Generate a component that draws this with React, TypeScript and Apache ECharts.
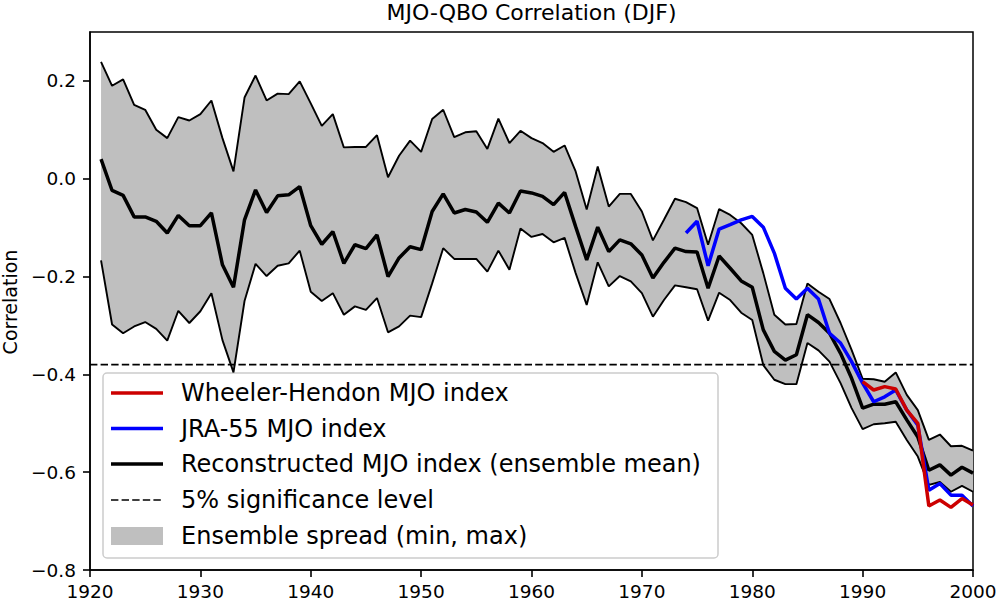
import React, { useEffect, useRef } from "react";
import * as echarts from "echarts";

const years = [
  1921, 1922, 1923, 1924, 1925, 1926, 1927, 1928, 1929, 1930,
  1931, 1932, 1933, 1934, 1935, 1936, 1937, 1938, 1939, 1940,
  1941, 1942, 1943, 1944, 1945, 1946, 1947, 1948, 1949, 1950,
  1951, 1952, 1953, 1954, 1955, 1956, 1957, 1958, 1959, 1960,
  1961, 1962, 1963, 1964, 1965, 1966, 1967, 1968, 1969, 1970,
  1971, 1972, 1973, 1974, 1975, 1976, 1977, 1978, 1979, 1980,
  1981, 1982, 1983, 1984, 1985, 1986, 1987, 1988, 1989, 1990,
  1991, 1992, 1993, 1994, 1995, 1996, 1997, 1998, 1999, 2000,
];

const ensembleMax = [
  0.239, 0.19, 0.203, 0.151, 0.141, 0.1, 0.083, 0.126, 0.119, 0.132,
  0.16, 0.083, 0.015, 0.166, 0.211, 0.16, 0.174, 0.173, 0.199, 0.154,
  0.108, 0.132, 0.064, 0.065, 0.065, 0.089, 0.003, 0.047, 0.078, 0.055,
  0.122, 0.141, 0.085, 0.095, 0.097, 0.061, 0.123, 0.073, 0.098, 0.083,
  0.073, 0.055, 0.068, 0.015, -0.063, 0.025, -0.057, -0.031, -0.031, -0.067,
  -0.126, -0.084, -0.041, -0.048, -0.06, -0.135, -0.062, -0.074, -0.091, -0.115,
  -0.193, -0.278, -0.298, -0.297, -0.214, -0.231, -0.246, -0.295, -0.35, -0.409,
  -0.41, -0.415, -0.396, -0.442, -0.473, -0.534, -0.523, -0.547, -0.546, -0.556,
];

const ensembleMean = [
  0.04, -0.024, -0.034, -0.078, -0.078, -0.087, -0.111, -0.075, -0.096, -0.096,
  -0.07, -0.176, -0.222, -0.084, -0.023, -0.069, -0.035, -0.033, -0.016, -0.096,
  -0.134, -0.108, -0.173, -0.135, -0.143, -0.115, -0.2, -0.162, -0.139, -0.145,
  -0.067, -0.031, -0.07, -0.063, -0.068, -0.089, -0.05, -0.07, -0.025, -0.029,
  -0.036, -0.053, -0.028, -0.098, -0.166, -0.099, -0.149, -0.125, -0.133, -0.156,
  -0.203, -0.171, -0.142, -0.149, -0.15, -0.224, -0.158, -0.183, -0.209, -0.222,
  -0.309, -0.353, -0.371, -0.36, -0.278, -0.294, -0.316, -0.357, -0.408, -0.469,
  -0.461, -0.461, -0.456, -0.493, -0.528, -0.596, -0.585, -0.606, -0.59, -0.602,
];

const ensembleMin = [
  -0.167, -0.298, -0.316, -0.302, -0.293, -0.307, -0.331, -0.27, -0.295, -0.271,
  -0.234, -0.33, -0.396, -0.25, -0.174, -0.199, -0.178, -0.173, -0.147, -0.231,
  -0.25, -0.234, -0.278, -0.261, -0.268, -0.244, -0.314, -0.302, -0.28, -0.283,
  -0.214, -0.142, -0.164, -0.164, -0.164, -0.19, -0.147, -0.186, -0.102, -0.119,
  -0.113, -0.13, -0.121, -0.193, -0.258, -0.171, -0.22, -0.199, -0.21, -0.234,
  -0.282, -0.248, -0.218, -0.222, -0.226, -0.29, -0.233, -0.248, -0.274, -0.289,
  -0.381, -0.411, -0.42, -0.42, -0.336, -0.351, -0.374, -0.418, -0.469, -0.512,
  -0.502, -0.5, -0.497, -0.534, -0.568, -0.626, -0.62, -0.64, -0.628, -0.64,
];

const jraYears = [
  1974, 1975, 1976, 1977, 1978, 1979, 1980, 1981, 1982, 1983, 1984, 1985, 1986,
  1987, 1988, 1989, 1990, 1991, 1992, 1993, 1994, 1995, 1996, 1997, 1998, 1999, 2000,
];
const jraValues = [
  -0.111, -0.087, -0.178, -0.103, -0.094, -0.084, -0.077, -0.099, -0.152, -0.224,
  -0.246, -0.224, -0.246, -0.316, -0.336, -0.374, -0.418, -0.456, -0.446, -0.432,
  -0.473, -0.504, -0.637, -0.623, -0.647, -0.647, -0.669,
];

const whYears = [1990, 1991, 1992, 1993, 1994, 1995, 1996, 1997, 1998, 1999, 2000];
const whValues = [-0.415, -0.432, -0.425, -0.43, -0.473, -0.5, -0.669, -0.657, -0.672, -0.654, -0.667];

const significance = -0.38;
const xTicks = [1920, 1930, 1940, 1950, 1960, 1970, 1980, 1990, 2000];
const yTicks = [-0.8, -0.6, -0.4, -0.2, 0.0, 0.2];

const legendLabels = [
  "Wheeler-Hendon MJO index",
  "JRA-55 MJO index",
  "Reconstructed MJO index (ensemble mean)",
  "5% significance level",
  "Ensemble spread (min, max)",
];

const FONT = "'DejaVu Sans', 'Noto Sans', sans-serif";
const RED = "#cc0000";
const BLUE = "#0000ff";
const GREY = "#bfbfbf";

const pairs = (xs: number[], ys: number[]) => xs.map((x, i) => [x, ys[i]]);
const fmt = (v: number) => v.toFixed(1).replace("-", "\u2212");

export default function App() {
  const ref = useRef<HTMLDivElement>(null);

  useEffect(() => {
    if (!ref.current) return;
    const chart = echarts.init(ref.current, undefined, { renderer: "svg" });

    const lx = 103, ly = 373, lw = 615, lh = 185;
    const rowY = [393, 428.5, 464, 500, 536];
    const hx1 = 111, hx2 = 163, tx = 181;

    const legendChildren: any[] = [
      {
        type: "rect",
        shape: { x: lx, y: ly, width: lw, height: lh, r: 4 },
        style: { fill: "rgba(255,255,255,0.8)", stroke: "#cccccc", lineWidth: 1.5 },
      },
      { type: "line", shape: { x1: hx1, y1: rowY[0], x2: hx2, y2: rowY[0] }, style: { stroke: RED, lineWidth: 3.5 } },
      { type: "line", shape: { x1: hx1, y1: rowY[1], x2: hx2, y2: rowY[1] }, style: { stroke: BLUE, lineWidth: 3.5 } },
      { type: "line", shape: { x1: hx1, y1: rowY[2], x2: hx2, y2: rowY[2] }, style: { stroke: "#000", lineWidth: 3.5 } },
      {
        type: "line",
        shape: { x1: hx1, y1: rowY[3], x2: hx2, y2: rowY[3] },
        style: { stroke: "#000", lineWidth: 1.6, lineDash: [7.4, 3.2] },
      },
      { type: "rect", shape: { x: hx1, y: rowY[4] - 9, width: hx2 - hx1, height: 18 }, style: { fill: GREY } },
    ];
    legendLabels.forEach((t, i) => {
      legendChildren.push({
        type: "text",
        x: tx,
        y: rowY[i],
        style: {
          text: t,
          fontSize: 24,
          fontFamily: FONT,
          fill: "#000",
          textAlign: "left",
          textVerticalAlign: "middle",
        },
      });
    });

    const thin = { color: "#000", width: 1.9 };
    const bandData = years.map((y, i) => [y, ensembleMin[i], ensembleMax[i]]);
    const axisLineStyle = { show: true, onZero: false, lineStyle: { color: "#000", width: 1.5 } };
    const tickStyle = { color: "#000", width: 1.6 };

    chart.setOption({
      animation: false,
      grid: {
        left: 90,
        right: 25,
        top: 32,
        bottom: 32,
        containLabel: false,
        outerBoundsMode: "none",
        show: true,
        borderColor: "#000",
        borderWidth: 1.5,
        backgroundColor: "transparent",
      },
      xAxis: {
        type: "value",
        min: 1920,
        max: 2000,
        interval: 10,
        axisLine: axisLineStyle,
        splitLine: { show: false },
        axisTick: { show: true, inside: false, length: 7, lineStyle: tickStyle, customValues: xTicks },
        axisLabel: {
          color: "#000",
          fontSize: 18.5,
          fontFamily: FONT,
          margin: 12,
          customValues: xTicks,
          formatter: (v: number) => String(v),
        },
      },
      yAxis: {
        type: "value",
        min: -0.8,
        max: 0.3,
        interval: 0.2,
        axisLine: axisLineStyle,
        splitLine: { show: false },
        axisTick: { show: true, inside: false, length: 7, lineStyle: tickStyle, customValues: yTicks },
        axisLabel: {
          color: "#000",
          fontSize: 18.5,
          fontFamily: FONT,
          margin: 14,
          customValues: yTicks,
          formatter: (v: number) => fmt(v),
        },
      },
      series: [
        {
          name: "Ensemble spread (min, max)",
          type: "custom",
          silent: true,
          data: bandData,
          encode: { x: 0, y: [1, 2] },
          renderItem: (params: any, api: any) => {
            if (params.dataIndex !== 0) return null;
            const top: number[][] = [];
            const bottom: number[][] = [];
            for (let i = 0; i < bandData.length; i++) {
              top.push(api.coord([bandData[i][0], bandData[i][2]]));
              bottom.push(api.coord([bandData[i][0], bandData[i][1]]));
            }
            const points = top.concat(bottom.reverse());
            return {
              type: "polygon",
              shape: { points },
              style: { fill: GREY, stroke: "none" },
            };
          },
          z: 1,
        },
        { name: "Ensemble max", type: "line", data: pairs(years, ensembleMax), symbol: "none", lineStyle: thin, z: 2 },
        { name: "Ensemble min", type: "line", data: pairs(years, ensembleMin), symbol: "none", lineStyle: thin, z: 2 },
        {
          name: "5% significance level",
          type: "line",
          data: [
            [1920, significance],
            [2000, significance],
          ],
          symbol: "none",
          lineStyle: { color: "#000", width: 1.6, type: [7.4, 3.2] },
          z: 2,
        },
        {
          name: "Reconstructed MJO index (ensemble mean)",
          type: "line",
          data: pairs(years, ensembleMean),
          symbol: "none",
          lineStyle: { color: "#000", width: 3.5 },
          z: 3,
        },
        {
          name: "JRA-55 MJO index",
          type: "line",
          data: pairs(jraYears, jraValues),
          symbol: "none",
          lineStyle: { color: BLUE, width: 3.5 },
          z: 3,
        },
        {
          name: "Wheeler-Hendon MJO index",
          type: "line",
          data: pairs(whYears, whValues),
          symbol: "none",
          lineStyle: { color: RED, width: 3.5 },
          z: 3,
        },
      ],
      graphic: [
        {
          type: "text",
          x: 531.5,
          y: 12,
          style: {
            text: "MJO-QBO Correlation (DJF)",
            fontSize: 22,
            fontFamily: FONT,
            fill: "#000",
            textAlign: "center",
            textVerticalAlign: "middle",
          },
        },
        {
          type: "text",
          x: 10,
          y: 302,
          rotation: Math.PI / 2,
          style: {
            text: "Correlation",
            fontSize: 19,
            fontFamily: FONT,
            fill: "#000",
            textAlign: "center",
            textVerticalAlign: "middle",
          },
        },
        { type: "group", z: 10, children: legendChildren },
      ],
    });

    return () => chart.dispose();
  }, []);

  return (
    <div
      ref={ref}
      style={{ position: "absolute", left: 0, top: 0, width: 998, height: 602, background: "#fff" }}
    />
  );
}
